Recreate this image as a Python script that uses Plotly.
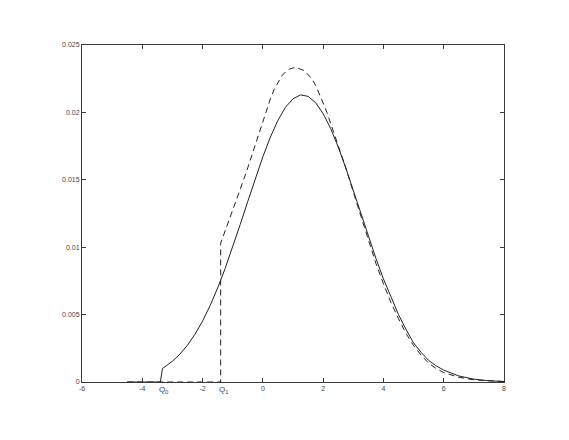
import plotly.graph_objects as go

# ── values ─────────────────────────────────────────────────────────────────
Q0 = -3.40
Q1 = -1.40

x_solid = [-4.5, -3.40, -3.33, -3.0, -2.75, -2.5, -2.25, -2.0, -1.75, -1.5,
           -1.25, -1.0, -0.75, -0.5, -0.25, 0.0, 0.25, 0.5, 0.75, 1.0,
           1.25, 1.5, 1.75, 2.0, 2.25, 2.5, 2.75, 3.0, 3.25, 3.5,
           3.75, 4.0, 4.25, 4.5, 4.75, 5.0, 5.25, 5.5, 5.75, 6.0,
           6.5, 7.0, 7.5, 8.0]
y_solid = [0.0, 0.0, 0.00100, 0.00154, 0.00207, 0.00273, 0.00355, 0.00452, 0.00567, 0.00697,
           0.00843, 0.01001, 0.01169, 0.0134, 0.0151, 0.01671, 0.01817, 0.01941, 0.02038, 0.02101,
           0.0213, 0.02119, 0.02072, 0.01991, 0.0188, 0.01743, 0.01589, 0.01422, 0.0125, 0.01081,
           0.00918, 0.00765, 0.00627, 0.00500, 0.00390, 0.0029, 0.0022, 0.0016, 0.0012, 0.00088,
           0.00045, 0.00021, 0.00009, 0.00004]

x_dash = [-4.5, Q1, Q1, -1.25, -1.0, -0.75, -0.5, -0.25, 0.0, 0.25,
          0.375, 0.5, 0.625, 0.75, 0.875, 1.0, 1.1, 1.25, 1.375, 1.5,
          1.625, 1.75, 1.875, 2.0, 2.125, 2.25, 2.5, 2.75, 3.0, 3.25,
          3.5, 3.75, 4.0, 4.25, 4.5, 4.75, 5.0, 5.25, 5.5, 5.75,
          6.0, 6.5, 7.0, 7.5, 8.0]
y_dash = [0.0, 0.0, 0.0103, 0.0112, 0.0127, 0.0143, 0.0159, 0.0176, 0.0194, 0.0210,
          0.0217, 0.0222, 0.0227, 0.0230, 0.0232, 0.0233, 0.02333, 0.0232, 0.0231, 0.0228,
          0.0225, 0.0220, 0.0214, 0.0207, 0.0200, 0.0192, 0.0176, 0.0159, 0.0141, 0.0123,
          0.0105, 0.0088, 0.0073, 0.0059, 0.0047, 0.0036, 0.0027, 0.0020, 0.0014, 0.0010,
          0.0007, 0.00035, 0.00016, 0.00007, 0.00003]

x_ticks = [-6, -4, -2, 0, 2, 4, 6, 8]
y_ticks = [0, 0.005, 0.01, 0.015, 0.02, 0.025]
y_ticktext = ["0", "0.005", "0.01", "0.015", "0.02", "0.025"]

# ── figure ─────────────────────────────────────────────────────────────────
AXIS = "#3a3a3a"
FONT = dict(family="Liberation Sans, Arial, sans-serif", size=7, color="#444444")

fig = go.Figure()
fig.add_trace(go.Scatter(
    x=x_solid, y=y_solid, mode="lines",
    line=dict(color="#222222", width=1),
    hoverinfo="skip",
))
fig.add_trace(go.Scatter(
    x=x_dash, y=y_dash, mode="lines",
    line=dict(color="#222222", width=1, dash="6px,4px"),
    hoverinfo="skip",
))

for q, lbl in [(Q0, "Q<sub>0</sub>"), (Q1, "Q<sub>1</sub>")]:
    fig.add_annotation(
        x=q, y=0, xref="x", yref="paper",
        text=lbl, showarrow=False,
        xanchor="center", yanchor="top", xshift=3, yshift=-1,
        font=dict(family=FONT["family"], size=8, color="#444444"),
    )

# page body adds an 8px offset, so margins are shifted to keep the
# plot area at the reference position
fig.update_layout(
    width=569, height=440,
    paper_bgcolor="white", plot_bgcolor="white",
    showlegend=False,
    margin=dict(l=74, r=73, t=37, b=66),
    font=FONT,
    xaxis=dict(
        range=[-6, 8], tickvals=x_ticks, ticktext=[str(v) for v in x_ticks],
        showgrid=False, zeroline=False,
        showline=True, linecolor=AXIS, linewidth=1, mirror="ticks",
        ticks="inside", ticklen=4, tickcolor=AXIS, tickwidth=1,
        tickfont=FONT,
    ),
    yaxis=dict(
        range=[0, 0.025], tickvals=y_ticks, ticktext=y_ticktext,
        showgrid=False, zeroline=False,
        showline=True, linecolor=AXIS, linewidth=1, mirror="ticks",
        ticks="inside", ticklen=4, tickcolor=AXIS, tickwidth=1,
        tickfont=FONT,
    ),
)

fig.write_html("out.html")
